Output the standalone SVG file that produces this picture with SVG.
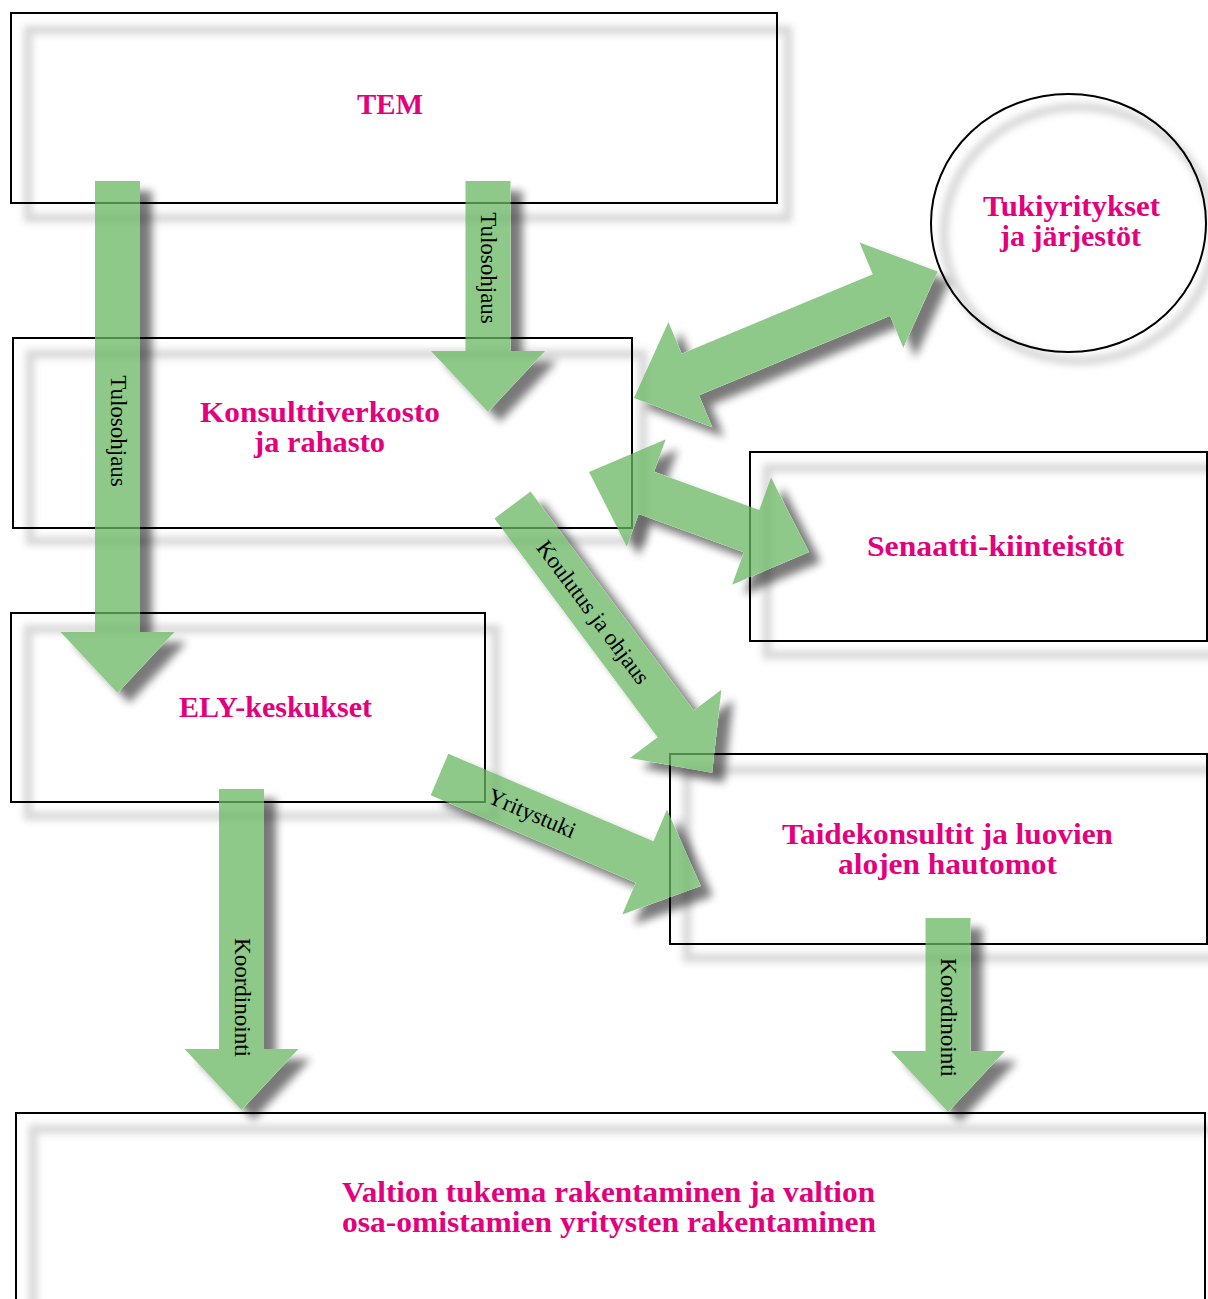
<svg xmlns="http://www.w3.org/2000/svg" width="1208" height="1299" viewBox="0 0 1208 1299">
<style>
.box{fill:none;stroke:#000;stroke-width:2}
.sh{fill:none;stroke:#000;stroke-opacity:0.15;stroke-width:9;filter:url(#bsh)}
.nt{font-family:"Liberation Serif",serif;font-weight:bold;font-size:30px;fill:#E4007C;text-anchor:middle}
.arr{fill:#6AB863}
.ag{opacity:0.75;filter:url(#ash)}
.lb{font-family:"Liberation Serif",serif;font-size:23px;fill:#000;text-anchor:middle}
</style>
<defs>
<filter id="bsh" x="-10%" y="-10%" width="120%" height="120%">
<feGaussianBlur stdDeviation="3.5"/>
</filter>
<filter id="ash" x="-30%" y="-30%" width="160%" height="160%">
<feGaussianBlur in="SourceAlpha" stdDeviation="4"/>
<feOffset dx="12" dy="10" result="b"/>
<feFlood flood-color="#000" flood-opacity="0.7"/>
<feComposite in2="b" operator="in" result="c"/>
<feComposite in="c" in2="SourceAlpha" operator="out" result="s"/>
<feMerge><feMergeNode in="s"/><feMergeNode in="SourceGraphic"/></feMerge>
</filter>
</defs>
<rect width="1208" height="1299" fill="#fff"/>

<g id="node-tem">
<rect class="sh" x="28" y="30" width="760" height="188"/>
<rect class="box" x="11" y="13" width="766" height="190"/>
<text class="nt" x="390" y="114" textLength="66" lengthAdjust="spacingAndGlyphs">TEM</text>
</g>
<g id="node-konsultti">
<rect class="sh" x="30" y="354" width="613" height="187"/>
<rect class="box" x="13" y="338" width="619" height="190"/>
<text class="nt" x="320" y="422" textLength="240" lengthAdjust="spacingAndGlyphs">Konsulttiverkosto</text>
<text class="nt" x="319.5" y="452" textLength="131" lengthAdjust="spacingAndGlyphs">ja rahasto</text>
</g>
<g id="node-ely">
<rect class="sh" x="28" y="629" width="468" height="187"/>
<rect class="box" x="11" y="613" width="474" height="189"/>
<text class="nt" x="275.5" y="717" textLength="193" lengthAdjust="spacingAndGlyphs">ELY-keskukset</text>
</g>
<g id="node-tuki">
<ellipse class="sh" cx="1079" cy="234" rx="135" ry="127"/>
<ellipse class="box" cx="1068.5" cy="223" rx="137.5" ry="129"/>
<text class="nt" x="1071.5" y="216" textLength="177" lengthAdjust="spacingAndGlyphs">Tukiyritykset</text>
<text class="nt" x="1070.5" y="246" textLength="141" lengthAdjust="spacingAndGlyphs">ja järjestöt</text>
</g>
<g id="node-senaatti">
<rect class="sh" x="767" y="468" width="460" height="187"/>
<rect class="box" x="750" y="452" width="457" height="189"/>
<text class="nt" x="995.5" y="556" textLength="257" lengthAdjust="spacingAndGlyphs">Senaatti-kiinteistöt</text>
</g>
<g id="node-taide">
<rect class="sh" x="687" y="770" width="540" height="188"/>
<rect class="box" x="670" y="754" width="537" height="190"/>
<text class="nt" x="947.5" y="844" textLength="331" lengthAdjust="spacingAndGlyphs">Taidekonsultit ja luovien</text>
<text class="nt" x="947.5" y="874" textLength="219" lengthAdjust="spacingAndGlyphs">alojen hautomot</text>
</g>
<g id="node-valtio">
<rect class="sh" x="33" y="1129" width="1183" height="220"/>
<rect class="box" x="16" y="1113" width="1189" height="220"/>
<text class="nt" x="608.5" y="1202" textLength="533" lengthAdjust="spacingAndGlyphs">Valtion tukema rakentaminen ja valtion</text>
<text class="nt" x="609" y="1232" textLength="534" lengthAdjust="spacingAndGlyphs">osa-omistamien yritysten rakentaminen</text>
</g>

<g id="connectors">
<g id="arrow-tem-ely" class="ag"><polygon class="arr" transform="translate(117.5,181) rotate(90)" points="0,-22.5 451,-22.5 451,-57 512,0 451,57 451,22.5 0,22.5"/></g>
<g id="arrow-tem-konsultti" class="ag"><polygon class="arr" transform="translate(488,181) rotate(90)" points="0,-22.5 170,-22.5 170,-57 231,0 170,57 170,22.5 0,22.5"/></g>
<g id="arrow-ely-valtio" class="ag"><polygon class="arr" transform="translate(241.5,789) rotate(90)" points="0,-22.5 260,-22.5 260,-57 321,0 260,57 260,22.5 0,22.5"/></g>
<g id="arrow-taide-valtio" class="ag"><polygon class="arr" transform="translate(948,918) rotate(90)" points="0,-22.5 133,-22.5 133,-57 194,0 133,57 133,22.5 0,22.5"/></g>
<g id="arrow-konsultti-taide" class="ag"><polygon class="arr" transform="translate(512.5,505) rotate(53.3)" points="0,-22.5 273,-22.5 273,-57 334,0 273,57 273,22.5 0,22.5"/></g>
<g id="arrow-ely-taide" class="ag"><polygon class="arr" transform="translate(439.5,774.5) rotate(23.1)" points="0,-22.5 223,-22.5 223,-57 284,0 223,57 223,22.5 0,22.5"/></g>
<g id="arrow-konsultti-tuki" class="ag"><polygon class="arr" transform="translate(634,398) rotate(-22.6)" points="0,0 61,-57 61,-22.5 268,-22.5 268,-57 329,0 268,57 268,22.5 61,22.5 61,57"/></g>
<g id="arrow-konsultti-senaatti" class="ag"><polygon class="arr" transform="translate(589,472) rotate(20)" points="0,0 61,-57 61,-22.5 173,-22.5 173,-57 234,0 173,57 173,22.5 61,22.5 61,57"/></g>

<text class="lb" transform="translate(117.5,431) rotate(90)" y="7">Tulosohjaus</text>
<text class="lb" transform="translate(488,268) rotate(90)" y="7">Tulosohjaus</text>
<text class="lb" transform="translate(241.5,997.5) rotate(90)" y="7">Koordinointi</text>
<text class="lb" transform="translate(948,1017.5) rotate(90)" y="7">Koordinointi</text>
<text class="lb" transform="translate(592.7,612.7) rotate(53.3)" y="7">Koulutus ja ohjaus</text>
<text class="lb" transform="translate(531.7,813.9) rotate(23.1)" y="7">Yritystuki</text>
</g>
</svg>
